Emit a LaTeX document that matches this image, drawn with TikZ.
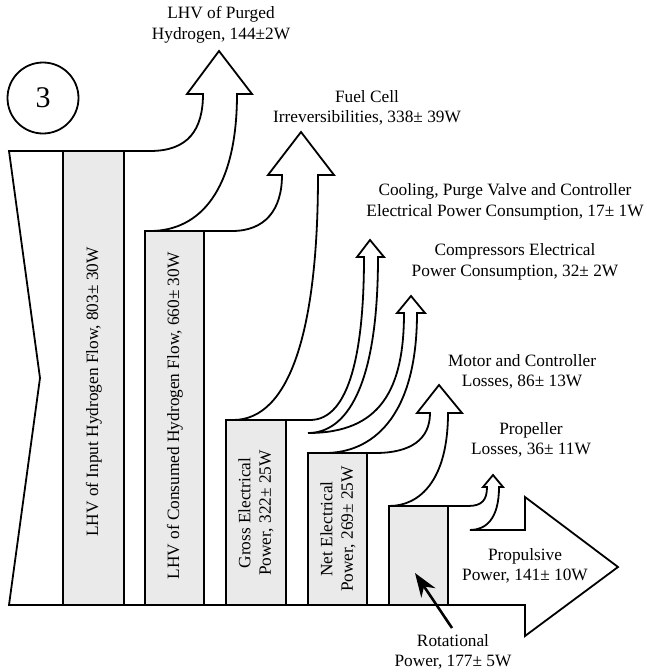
\documentclass[tikz,border=0pt]{standalone}
\usepackage{fontspec}
\setmainfont{Liberation Serif}
\usetikzlibrary{arrows.meta}
\definecolor{boxgray}{RGB}{234,234,234}
\tikzset{
  flow/.style={draw=black, line width=1.8pt, line join=miter, fill=white},
  fbox/.style={draw=black, line width=1.8pt, fill=boxgray},
  lbl/.style={align=center, inner sep=0pt, font=\fontsize{17.3}{20.5}\selectfont},
  vlbl/.style={lbl, rotate=90},
  pointer/.style={line width=2.6pt, -{Stealth[length=24pt,width=17pt]}}
}
\begin{document}
\begin{tikzpicture}[x=1pt,y=-1pt]
\useasboundingbox (0,0) rectangle (647,672);
% main flow outline
\draw[flow] (9,151) -- (150,151)
  .. controls (188,151) and (203,130) .. (203,94) -- (187,94) -- (219,51) -- (252,94) -- (237,94)
  .. controls (237,190) and (200,231) .. (150,231) -- (232,231)
  .. controls (265,231) and (282,210) .. (282,175) -- (268,175) -- (301,132) -- (334,175) -- (318,175)
  .. controls (318,330) and (290,420) .. (233,420) -- (310,420)
  .. controls (350,420) and (364,350) .. (364,257) -- (357,257) -- (370,240) -- (384,257) -- (378,257)
  .. controls (378,390) and (345,433) .. (308,433)
  .. controls (380,433) and (404,390) .. (404,313) -- (397,313) -- (411,296) -- (425,313) -- (417,313)
  .. controls (417,420) and (370,453) .. (325,453) -- (375,453)
  .. controls (410,453) and (430,440) .. (430,413) -- (417,413) -- (439,385) -- (462,413) -- (448,413)
  .. controls (448,480) and (420,506) .. (389,506) -- (468,506)
  .. controls (482,506) and (487,500) .. (487,487) -- (483,487) -- (493,475) -- (503,487) -- (499,487)
  .. controls (499,520) and (485,530) .. (470,530) -- (525,530) -- (525,497) -- (618,567) -- (525,636)
  -- (525,605) -- (9,605) -- (40,378) -- cycle;
% boxes
\draw[fbox] (63,151) rectangle (124,605);
\draw[fbox] (145,231) rectangle (204,605);
\draw[fbox] (226,420) rectangle (286,605);
\draw[fbox] (308,453) rectangle (367,605);
\draw[fbox] (389,506) rectangle (448,605);
% circle
\node[draw, circle, line width=1.8pt, minimum size=71pt, inner sep=0pt, font=\fontsize{30}{32}\selectfont] (num) at (43,98) {3};
% box labels
\node[vlbl] (inlbl) at (94,392) {LHV of Input Hydrogen Flow, 803± 30W};
\node[vlbl] (conslbl) at (175,416) {LHV of Consumed Hydrogen Flow, 660± 30W};
\node[vlbl] (grosslbl) at (256,513) {Gross Electrical\\Power, 322± 25W};
\node[vlbl] (netlbl) at (338,529) {Net Electrical\\Power, 269± 25W};
% flow labels
\node[lbl] (purgelbl) at (221,25) {LHV of Purged\\Hydrogen, 144±2W};
\node[lbl] (fclbl) at (367,108) {Fuel Cell\\Irreversibilities, 338± 39W};
\node[lbl] (coollbl) at (505,202) {Cooling, Purge Valve and Controller\\Electrical Power Consumption, 17± 1W};
\node[lbl] (complbl) at (515,262) {Compressors Electrical\\Power Consumption, 32± 2W};
\node[lbl] (motlbl) at (522,372) {Motor and Controller\\Losses, 86± 13W};
\node[lbl] (proplbl) at (531,440) {Propeller\\Losses, 36± 11W};
\node[lbl] (pplbl) at (525,566) {Propulsive\\Power, 141± 10W};
\node[lbl] (rotlbl) at (453,652) {Rotational\\Power, 177± 5W};
% pointer
\coordinate (rottail) at (452,628);
\coordinate (rottip) at (415,573);
\draw[pointer] (rottail) -- (rottip);
\end{tikzpicture}
\end{document}
